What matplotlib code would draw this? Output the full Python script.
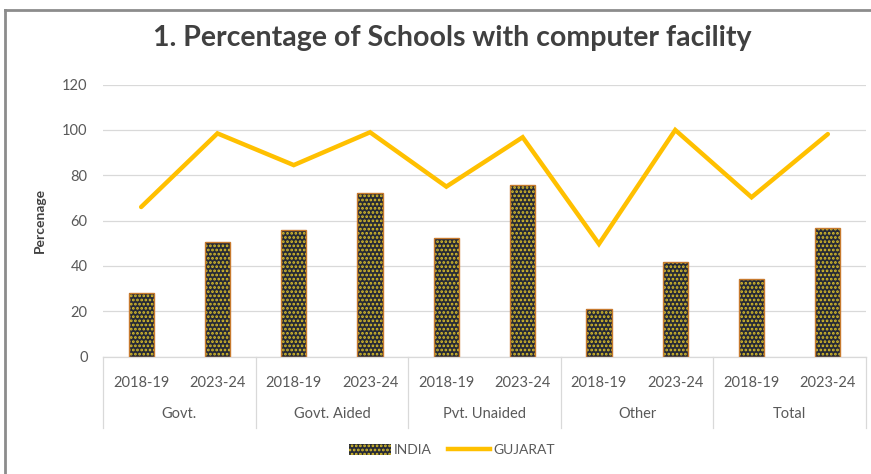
import matplotlib
matplotlib.use("Agg")
import matplotlib.pyplot as plt
import matplotlib.patches as mpatches
import matplotlib.lines as mlines
from matplotlib.transforms import blended_transform_factory

# ---- data ----
groups = ["Govt.", "Govt. Aided", "Pvt. Unaided", "Other", "Total"]
years = ["2018-19", "2023-24"]
india = [28, 50.4, 55.8, 72.3, 52.3, 75.7, 21, 41.6, 34.2, 56.9]
gujarat = [66, 98.5, 84.5, 99, 75, 96.8, 49.7, 100, 70.3, 98.2]
yticks = [0, 20, 40, 60, 80, 100, 120]

plt.rcParams['font.family'] = ['Lato', 'DejaVu Sans']
plt.rcParams['hatch.linewidth'] = 1.3

fig = plt.figure(figsize=(8.71, 4.74), dpi=100)
W, H = 871, 474
ax = fig.add_axes([103 / W, 1 - 356.5 / H, (866 - 103) / W, (356.5 - 84.7) / H])

n = len(india)
x = list(range(n))
ax.bar(x, india, width=0.33, color='#262a36', edgecolor='#dcc02a',
       hatch='....', linewidth=0, zorder=2)
ax.bar(x, india, width=0.33, fill=False, edgecolor='#c77a2e',
       linewidth=1.0, zorder=3)
ax.plot(x, gujarat, color='#FFC000', linewidth=3.2, solid_joinstyle='miter',
        solid_capstyle='round', zorder=4)

ax.set_xlim(-0.5, n - 0.5)
ax.set_ylim(0, 120)
ax.set_yticks(yticks)
ax.set_yticklabels([str(v) for v in yticks], color='#595959', fontsize=10.5)
ax.tick_params(axis='y', length=0, pad=11)
ax.grid(axis='y', color='#d9d9d9', linewidth=0.9, zorder=0)
ax.set_axisbelow(True)
for s in ['top', 'right', 'left']:
    ax.spines[s].set_visible(False)
ax.spines['bottom'].set_color('#d9d9d9')
ax.spines['bottom'].set_linewidth(0.9)

ax.set_xticks(x)
ax.set_xticklabels([years[i % 2] for i in x], color='#595959', fontsize=10.5)
ax.tick_params(axis='x', length=0, pad=14)

trans = blended_transform_factory(ax.transData, ax.transAxes)
ax_h = 356.5 - 84.7
def yax(py):
    return (356.5 - py) / ax_h

for gi, g in enumerate(groups):
    ax.text(2 * gi + 0.5, yax(414), g, transform=trans, ha='center', va='center',
            color='#595959', fontsize=10.5, clip_on=False)
for b in range(len(groups) + 1):
    ax.add_line(mlines.Line2D([2 * b - 0.5, 2 * b - 0.5], [0, yax(428)],
                              transform=trans, color='#d9d9d9', linewidth=0.9,
                              clip_on=False))

ax.set_ylabel("Percenage", color='#404040', fontsize=10, fontweight='bold', labelpad=12)

fig.text(452 / W, 1 - 38 / H, "1. Percentage of Schools with computer facility",
         ha='center', va='center', fontsize=20.5, fontweight='bold', color='#404040')

h1 = mpatches.Patch(facecolor='#262a36', edgecolor='#dcc02a', hatch='....', linewidth=0)
h2 = mlines.Line2D([], [], color='#FFC000', linewidth=3.2)
leg = fig.legend([h1, h2], ["INDIA", "GUJARAT"], loc='center', ncol=2,
                 bbox_to_anchor=(452 / W, 1 - 450 / H), frameon=False,
                 fontsize=10, handlelength=3.0, handleheight=0.8,
                 columnspacing=1.2, handletextpad=0.2)
for t in leg.get_texts():
    t.set_color('#595959')

# screenshot frame
fig.add_artist(mlines.Line2D([5 / W, 5 / W], [0, 1 - 10 / H], transform=fig.transFigure,
                             color='#8c8c8c', linewidth=2))
fig.add_artist(mlines.Line2D([5 / W, 1], [1 - 10 / H, 1 - 10 / H], transform=fig.transFigure,
                             color='#8c8c8c', linewidth=2))

fig.savefig("out.png", dpi=100)
